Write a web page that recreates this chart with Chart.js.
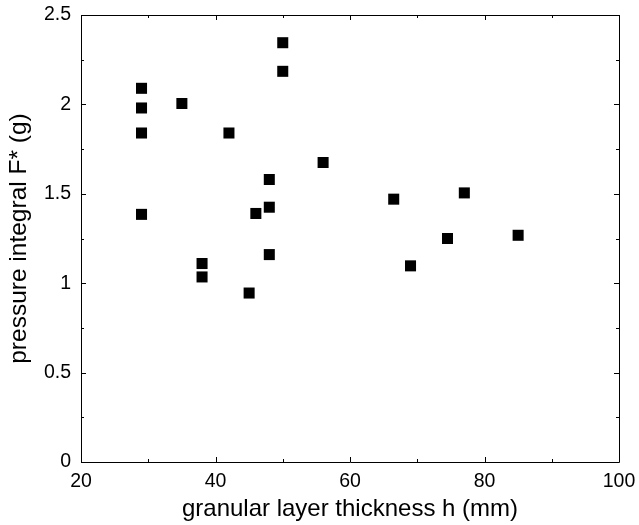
<!DOCTYPE html>
<html>
<head>
<meta charset="utf-8">
<script src="https://cdn.jsdelivr.net/npm/chart.js@4"></script>
<style>
html,body{margin:0;padding:0;background:#fff;}
#wrap{width:639px;height:525px;}
</style>
</head>
<body>
<div id="wrap"><canvas id="c" width="639" height="525"></canvas></div>
<script>
// Data
const thicknessH = [29, 29, 29, 29, 35, 42, 50, 50, 48, 48, 46, 48, 38, 38, 45, 56, 66.5, 77, 74.5, 85, 69];
const pressureF  = [2.09, 1.98, 1.84, 1.385, 2.005, 1.84, 2.345, 2.185, 1.58, 1.425, 1.39, 1.16, 1.11, 1.035, 0.945, 1.675, 1.47, 1.505, 1.25, 1.268, 1.097];
const xTicks = [20, 40, 60, 80, 100];
const yTicks = [0, 0.5, 1, 1.5, 2, 2.5];
const xMinorTicks = [30, 50, 70, 90];
const yMinorTicks = [0.25, 0.75, 1.25, 1.75, 2.25];
const xTitle = 'granular layer thickness h (mm)';
const yTitle = 'pressure integral F* (g)';

const points = thicknessH.map((x, i) => ({x: x, y: pressureF[i]}));

const FONT = 'Liberation Sans, Arial, sans-serif';

const frame = {
  id: 'frame',
  afterDatasetsDraw(chart) {
    const {ctx, chartArea: a, scales: {x, y}} = chart;
    ctx.save();
    ctx.strokeStyle = '#000';
    ctx.lineWidth = 1;
    ctx.beginPath();
    ctx.rect(Math.round(a.left) + 0.5, Math.round(a.top) + 0.5, Math.round(a.right - a.left), Math.round(a.bottom - a.top));
    ctx.stroke();
    const tick = (px, len, horiz) => {
      px = Math.round(px) + 0.5;
      if (horiz) {
        ctx.moveTo(px, a.bottom); ctx.lineTo(px, a.bottom - len);
        ctx.moveTo(px, a.top); ctx.lineTo(px, a.top + len);
      } else {
        ctx.moveTo(a.left, px); ctx.lineTo(a.left + len, px);
        ctx.moveTo(a.right, px); ctx.lineTo(a.right - len, px);
      }
    };
    ctx.beginPath();
    xTicks.forEach(v => tick(x.getPixelForValue(v), 5, true));
    xMinorTicks.forEach(v => tick(x.getPixelForValue(v), 3, true));
    yTicks.forEach(v => tick(y.getPixelForValue(v), 5, false));
    yMinorTicks.forEach(v => tick(y.getPixelForValue(v), 3, false));
    ctx.stroke();
    ctx.restore();
  }
};

new Chart(document.getElementById('c'), {
  type: 'scatter',
  data: {
    datasets: [{
      data: points,
      pointStyle: 'rect',
      pointRadius: 7.8,
      pointHoverRadius: 7.8,
      backgroundColor: '#000',
      borderColor: '#000',
      borderWidth: 0
    }]
  },
  options: {
    responsive: false,
    animation: false,
    devicePixelRatio: 1,
    layout: {padding: {top: 15, right: 20, left: 0, bottom: 0}},
    plugins: {legend: {display: false}, tooltip: {enabled: false}},
    scales: {
      x: {
        type: 'linear', min: 20, max: 100,
        afterFit(s) { s.height = 63; s.paddingLeft = 0; s.paddingRight = 0; },
        afterBuildTicks(s) { s.ticks = xTicks.map(v => ({value: v})); },
        grid: {display: false, drawTicks: false},
        border: {display: false},
        ticks: {color: '#000', font: {family: FONT, size: 19.5}, padding: 8, maxRotation: 0, callback: v => String(v)},
        title: {display: true, text: xTitle, color: '#000', font: {family: FONT, size: 24}, padding: {top: 0, bottom: 1}}
      },
      y: {
        type: 'linear', min: 0, max: 2.5,
        afterFit(s) { s.width = 81; s.paddingTop = 0; s.paddingBottom = 0; },
        afterBuildTicks(s) { s.ticks = yTicks.map(v => ({value: v})); },
        grid: {display: false, drawTicks: false},
        border: {display: false},
        ticks: {color: '#000', font: {family: FONT, size: 19.5}, padding: 10, callback: v => String(v)},
        title: {display: true, text: yTitle, color: '#000', font: {family: FONT, size: 24.5}, padding: {top: 5, bottom: 0}}
      }
    }
  },
  plugins: [frame]
});
</script>
</body>
</html>
